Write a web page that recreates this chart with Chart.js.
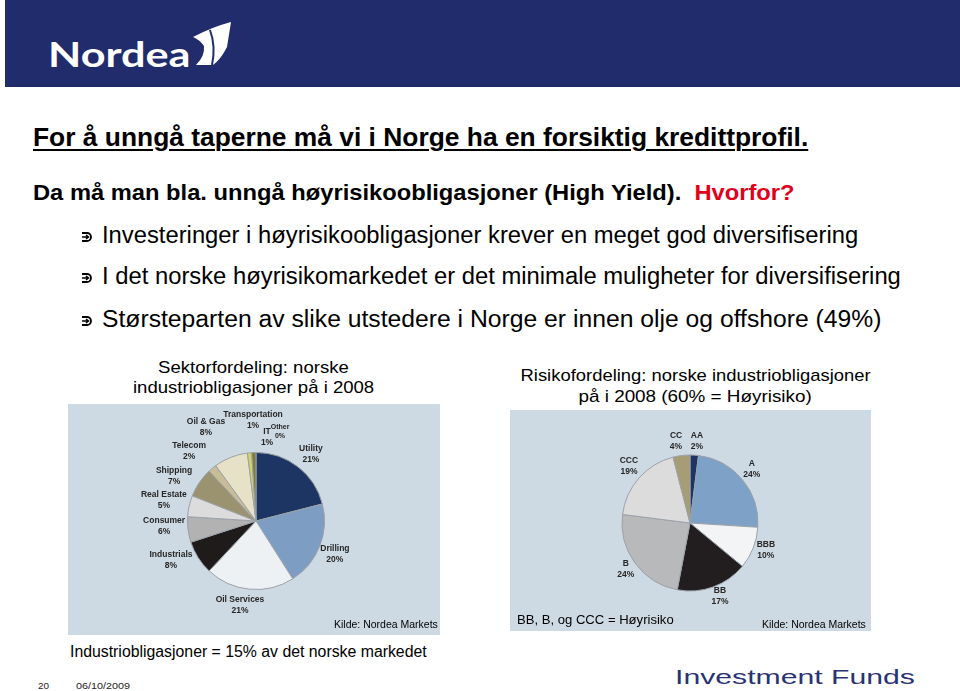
<!DOCTYPE html>
<html><head><meta charset="utf-8">
<script src="https://cdn.jsdelivr.net/npm/chart.js@4.4.1/dist/chart.umd.min.js"></script>
<style>
html,body{margin:0;padding:0;background:#fff;}
body{width:960px;height:691px;position:relative;overflow:hidden;font-family:"Liberation Sans",Arial,sans-serif;color:#000;}
.t{position:absolute;white-space:pre;line-height:1;}
#band{position:absolute;left:5px;top:0;width:955px;height:87px;background:#212c6c;}
.panel{position:absolute;background:#cedae3;}
canvas{display:block;}
</style>
</head><body>
<div id="band"></div>
<svg style="position:absolute;left:0;top:0" width="260" height="90">
  <path d="M193,37 Q212,27 231,22 L227,47 Q221,59 213,65 L196,65 Q205,56 204,46 Q200,40 193,37 Z" fill="#fff"/>
  <path d="M210,30 Q216,46 212,65" stroke="#212c6c" stroke-width="2" fill="none"/>
</svg>
<div class="t" data-x="48" data-y="53" data-w="142" style="font:700 35px Lato,'Liberation Sans',sans-serif;color:#fff;">Nordea</div>

<div class="t" data-x="33" data-y="136.5" data-w="775" style="font-weight:700;font-size:26px;text-decoration:underline;text-decoration-thickness:2px;text-underline-offset:3px;">For å unngå taperne må vi i Norge ha en forsiktig kredittprofil.</div>
<div class="t" data-x="33" data-y="193" data-w="762" style="font-weight:700;font-size:22px;">Da må man bla. unngå høyrisikoobligasjoner (High Yield).  <span style="color:#e2001a">Hvorfor?</span></div>

<svg class="bul" style="position:absolute;left:81px;top:231px" width="12" height="12" viewBox="0 0 12 12"><path d="M1,2 H6 A4,4 0 0 1 6,10 H1" stroke="#000" stroke-width="1.8" fill="none"/><path d="M1,6 H7 M5,4 L7.5,6 L5,8" stroke="#000" stroke-width="1.5" fill="none"/></svg>
<svg class="bul" style="position:absolute;left:81px;top:272px" width="12" height="12" viewBox="0 0 12 12"><path d="M1,2 H6 A4,4 0 0 1 6,10 H1" stroke="#000" stroke-width="1.8" fill="none"/><path d="M1,6 H7 M5,4 L7.5,6 L5,8" stroke="#000" stroke-width="1.5" fill="none"/></svg>
<svg class="bul" style="position:absolute;left:81px;top:315px" width="12" height="12" viewBox="0 0 12 12"><path d="M1,2 H6 A4,4 0 0 1 6,10 H1" stroke="#000" stroke-width="1.8" fill="none"/><path d="M1,6 H7 M5,4 L7.5,6 L5,8" stroke="#000" stroke-width="1.5" fill="none"/></svg>
<div class="t" data-x="102" data-y="236" data-w="756" style="font-size:23.5px;">Investeringer i høyrisikoobligasjoner krever en meget god diversifisering</div>
<div class="t" data-x="102" data-y="277" data-w="799" style="font-size:23.5px;">I det norske høyrisikomarkedet er det minimale muligheter for diversifisering</div>
<div class="t" data-x="102" data-y="320" data-w="780" style="font-size:23.5px;">Størsteparten av slike utstedere i Norge er innen olje og offshore (49%)</div>

<div class="t" data-x="253.5" data-y="367" data-w="191" data-a="c" style="font-size:17px;">Sektorfordeling: norske</div>
<div class="t" data-x="253.5" data-y="387" data-w="241" data-a="c" style="font-size:17px;">industriobligasjoner på i 2008</div>
<div class="t" data-x="695" data-y="375" data-w="350" data-a="c" style="font-size:17px;">Risikofordeling: norske industriobligasjoner</div>
<div class="t" data-x="694.5" data-y="396" data-w="233" data-a="c" style="font-size:17px;">på i 2008 (60% = Høyrisiko)</div>

<div class="panel" style="left:68px;top:404px;width:372px;height:231px;"><canvas id="c1" width="372" height="231"></canvas></div>
<div class="panel" style="left:510px;top:410px;width:361px;height:221px;"><canvas id="c2" width="361" height="221"></canvas></div>

<div class="t" data-x="438" data-y="624" data-w="104" data-a="r" style="font-size:11px;">Kilde: Nordea Markets</div>
<div class="t" data-x="866" data-y="624" data-w="104" data-a="r" style="font-size:11px;">Kilde: Nordea Markets</div>
<div class="t" data-x="517" data-y="619" data-w="157" style="font-size:13px;">BB, B, og CCC = Høyrisiko</div>
<div class="t" data-x="70" data-y="652" data-w="357" style="font-size:16px;">Industriobligasjoner = 15% av det norske markedet</div>
<div class="t" data-x="38" data-y="686" data-w="11" style="font-size:9px;color:#222;">20</div>
<div class="t" data-x="76" data-y="686" data-w="54" style="font-size:9px;color:#222;">06/10/2009</div>
<div class="t" data-x="675" data-y="677" data-w="240" style="font-size:20px;color:#2a3274;">Investment Funds</div>

<script>
// ---- data ----
const sectorLabels = ['Utility','Drilling','Oil Services','Industrials','Consumer','Real Estate','Shipping','Telecom','Oil & Gas','Transportation','IT','Other'];
const sectorValues = [21, 20, 21, 8, 6, 5, 7, 2, 8, 1, 1, 0];
const ratingLabels = ['AA','A','BBB','BB','B','CCC','CC'];
const ratingValues = [2, 24, 10, 17, 24, 19, 4];

// ---- styles ----
const sectorColors = ['#1d3562','#7e9dc2','#eef1f4','#1f1b1b','#b2b2b3','#dcdcdd','#9b9270','#c9bd98','#e7e2c7','#d3d26c','#7f7b3a','#b9b9b9'];
const ratingColors = ['#1c3566','#7ea1c7','#f3f4f6','#221e1f','#b8b9bb','#dcdcdd','#a69d77'];

// text placement / fitting
document.querySelectorAll('.t').forEach(el=>{
  const x=+el.dataset.x, y=+el.dataset.y, w=+el.dataset.w, a=el.dataset.a||'l';
  const w0=el.offsetWidth, h0=el.offsetHeight;
  const s=w? w/w0 : 1;
  el.style.top=(y-h0/2)+'px';
  if(a==='c'){el.style.left=(x-w0/2)+'px';el.style.transformOrigin='50% 50%';}
  else if(a==='r'){el.style.left=(x-w0)+'px';el.style.transformOrigin='100% 50%';}
  else {el.style.left=x+'px';el.style.transformOrigin='0 50%';}
  el.style.transform='scaleX('+s+')';
});

const pieLabels = {
  id:'pieLabels',
  afterDatasetsDraw(chart, args, opts){
    const ctx=chart.ctx, meta=chart.getDatasetMeta(0), ds=chart.data.datasets[0];
    meta.data.forEach((arc,i)=>{
      const p=arc.getProps(['x','y','startAngle','endAngle','outerRadius'],true);
      const ang=(p.startAngle+p.endAngle)/2+(opts.nudge[i]||0)*Math.PI/180;
      const d=p.outerRadius+opts.gap[i];
      const cx=p.x+Math.cos(ang)*d, cy=p.y+Math.sin(ang)*d;
      const size=(opts.sizes&&opts.sizes[i])||opts.size;
      const lh=size*1.3;
      ctx.save();
      ctx.fillStyle=opts.color; ctx.textAlign='center'; ctx.textBaseline='middle';
      ctx.font='bold '+size+'px "Liberation Sans", Arial, sans-serif';
      ctx.fillText(chart.data.labels[i], cx, cy-lh/2);
      ctx.fillText(ds.data[i]+'%', cx, cy+lh/2);
      ctx.restore();
    });
  }
};

function pie(id, labels, values, colors, padding, lab){
  return new Chart(document.getElementById(id), {
    type:'pie',
    data:{labels:labels, datasets:[{data:values, backgroundColor:colors, borderColor:'#9aa1a8', borderWidth:1, hoverOffset:0, offset:0}]},
    options:{
      responsive:false, animation:false, events:[],
      layout:{padding:padding},
      plugins:{legend:{display:false}, tooltip:{enabled:false}, pieLabels:lab}
    },
    plugins:[pieLabels]
  });
}

pie('c1', sectorLabels, sectorValues, sectorColors,
  {left:119, right:115, top:48, bottom:45},
  {color:'#262626', size:8.5,
   sizes:[8.5,8.5,8.5,8.5,8.5,8.5,8.5,8.5,8.5,8.5,8.5,7],
   nudge:[1.6,1.1,5.4,7.8,4.1,0.3,-5.4,-4.1,-6.4,3.7,9.3,15.1],
   gap:[18,17,17,25,23.5,26,25,28.4,38,32,16,23.7]});

pie('c2', ratingLabels, ratingValues, ratingColors,
  {left:111.5, right:112.5, top:44.5, bottom:39.5},
  {color:'#262626', size:8.5,
   nudge:[1.3,-1.5,-2,-2.5,0.3,1.6,-2.5],
   gap:[14,14,12.5,11,11,15.5,15]});
</script>
</body></html>
